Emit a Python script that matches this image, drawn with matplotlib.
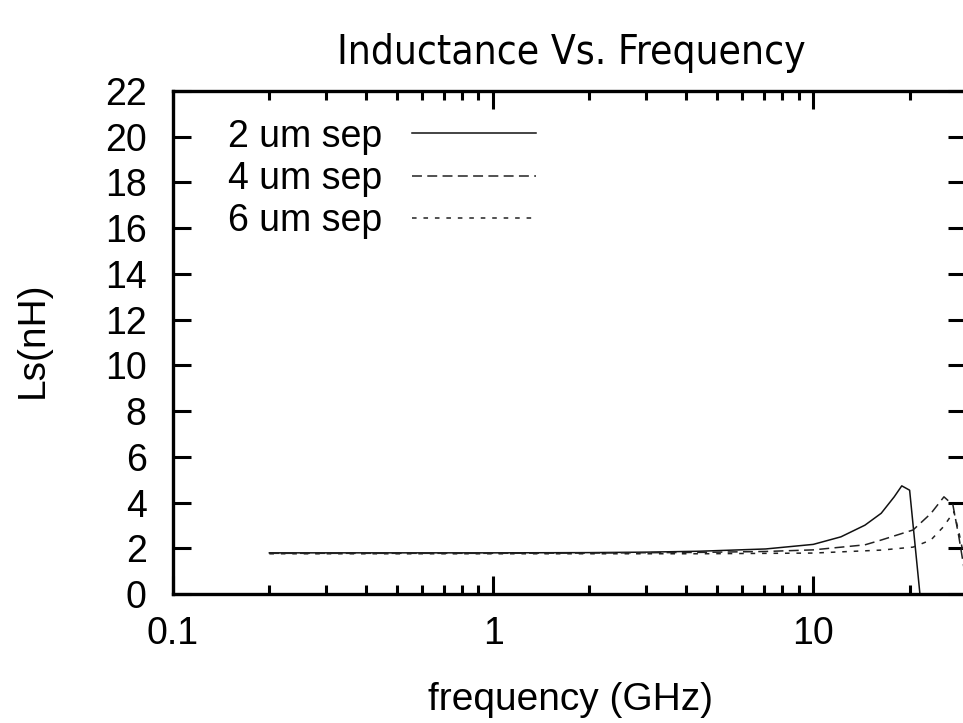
import numpy as np
import matplotlib
matplotlib.use("Agg")
import matplotlib.pyplot as plt
from matplotlib import font_manager
from matplotlib.ticker import LogLocator, NullFormatter, FixedLocator

plt.rcParams['font.family'] = ['Liberation Sans', 'DejaVu Sans']

# --------------------
# data
# --------------------
freq_2um = [0.2, 0.5, 1.0, 2.0, 3.0, 4.4, 7.1, 10.0, 12.2, 14.5, 16.3, 17.9, 18.9, 20.0, 22.0]
ls_2um = [1.80, 1.80, 1.80, 1.81, 1.83, 1.87, 1.97, 2.17, 2.50, 3.01, 3.53, 4.25, 4.73, 4.54, -1.3]

freq_4um = [0.2, 0.5, 1.0, 2.0, 4.4, 7.1, 10.0, 14.5, 16.3, 20.5, 23.3, 25.6, 27.3, 28.5, 30.0]
ls_4um = [1.78, 1.78, 1.78, 1.79, 1.82, 1.86, 1.93, 2.15, 2.36, 2.80, 3.52, 4.25, 3.90, 2.50, 0.6]

freq_6um = [0.2, 0.5, 1.0, 2.0, 4.4, 10.0, 16.3, 20.5, 23.3, 25.5, 27.5, 28.6, 30.0]
ls_6um = [1.76, 1.76, 1.76, 1.76, 1.76, 1.79, 1.92, 2.05, 2.36, 2.94, 3.60, 2.6, 1.2]

labels = ["2 um sep", "4 um sep", "6 um sep"]
x_ticks = [0.1, 1, 10, 100]
x_ticklabels = ["0.1", "1", "10", "100"]
y_ticks = list(range(0, 23, 2))

# --------------------
# narrow font for the title, if one is installed
# --------------------
title_font = None
for f in font_manager.fontManager.ttflist:
    n = f.name.lower()
    if 'narrow' in n or 'condensed' in n or str(f.stretch) in ('condensed', 'semi-condensed', '75', '87'):
        if f.style == 'normal' and f.weight in (400, 'normal', 'regular'):
            if title_font is None or 'liberation' in n:
                title_font = f.fname
if title_font:
    title_prop = font_manager.FontProperties(fname=title_font)
else:
    title_prop = font_manager.FontProperties(family='Liberation Sans')

# --------------------
# figure
# --------------------
W, H = 963, 723
fig = plt.figure(figsize=(W / 100, H / 100), dpi=100)
ax = fig.add_axes([173 / W, 1 - 594 / H, (966 - 173) / W, (594 - 91) / H])

ax.plot(freq_2um, ls_2um, color='#111111', lw=1.1, ls='-', label=labels[0])
ax.plot(freq_4um, ls_4um, color='#222222', lw=1.1, ls=(0, (6.5, 3.5)), label=labels[1])
ax.plot(freq_6um, ls_6um, color='#222222', lw=1.1, ls=(0, (3, 4.5)), label=labels[2])

ax.set_xscale('log')
ax.set_xlim(0.1, 30)
ax.set_ylim(0, 22)

ax.xaxis.set_major_locator(FixedLocator(x_ticks))
ax.set_xticklabels(x_ticklabels)
ax.xaxis.set_minor_locator(LogLocator(base=10, subs=np.arange(2, 10)))
ax.xaxis.set_minor_formatter(NullFormatter())
ax.set_yticks(y_ticks)

for s in ax.spines.values():
    s.set_linewidth(2.4)

ax.tick_params(which='both', direction='in', top=True, right=True, width=2.2, labelsize=27)
ax.tick_params(axis='x', which='major', length=13, pad=16)
ax.tick_params(axis='x', which='minor', length=6.5)
ax.tick_params(axis='y', which='major', length=13, pad=19)

leg = ax.legend(loc='upper left', bbox_to_anchor=(0.05, 0.975), frameon=False,
                markerfirst=False, fontsize=27, handlelength=3.3, handletextpad=0.8,
                labelspacing=0.17, borderaxespad=0)

# title: fit its width to the reference (about 469 px)
title = fig.text(571 / W, 1 - 64 / H, "Inductance Vs. Frequency", ha='center', va='baseline',
                 fontproperties=title_prop, fontsize=35)
fig.canvas.draw()
tw = title.get_window_extent().width
title.set_fontsize(35 * 469 / tw)

fig.text(570 / W, 1 - 710 / H, "frequency (GHz)", ha='center', va='baseline', fontsize=28)
fig.text(33 / W, 1 - 340 / H, "Ls(nH)", ha='center', va='center', rotation=90, fontsize=28)

fig.savefig("out.png", dpi=100)
